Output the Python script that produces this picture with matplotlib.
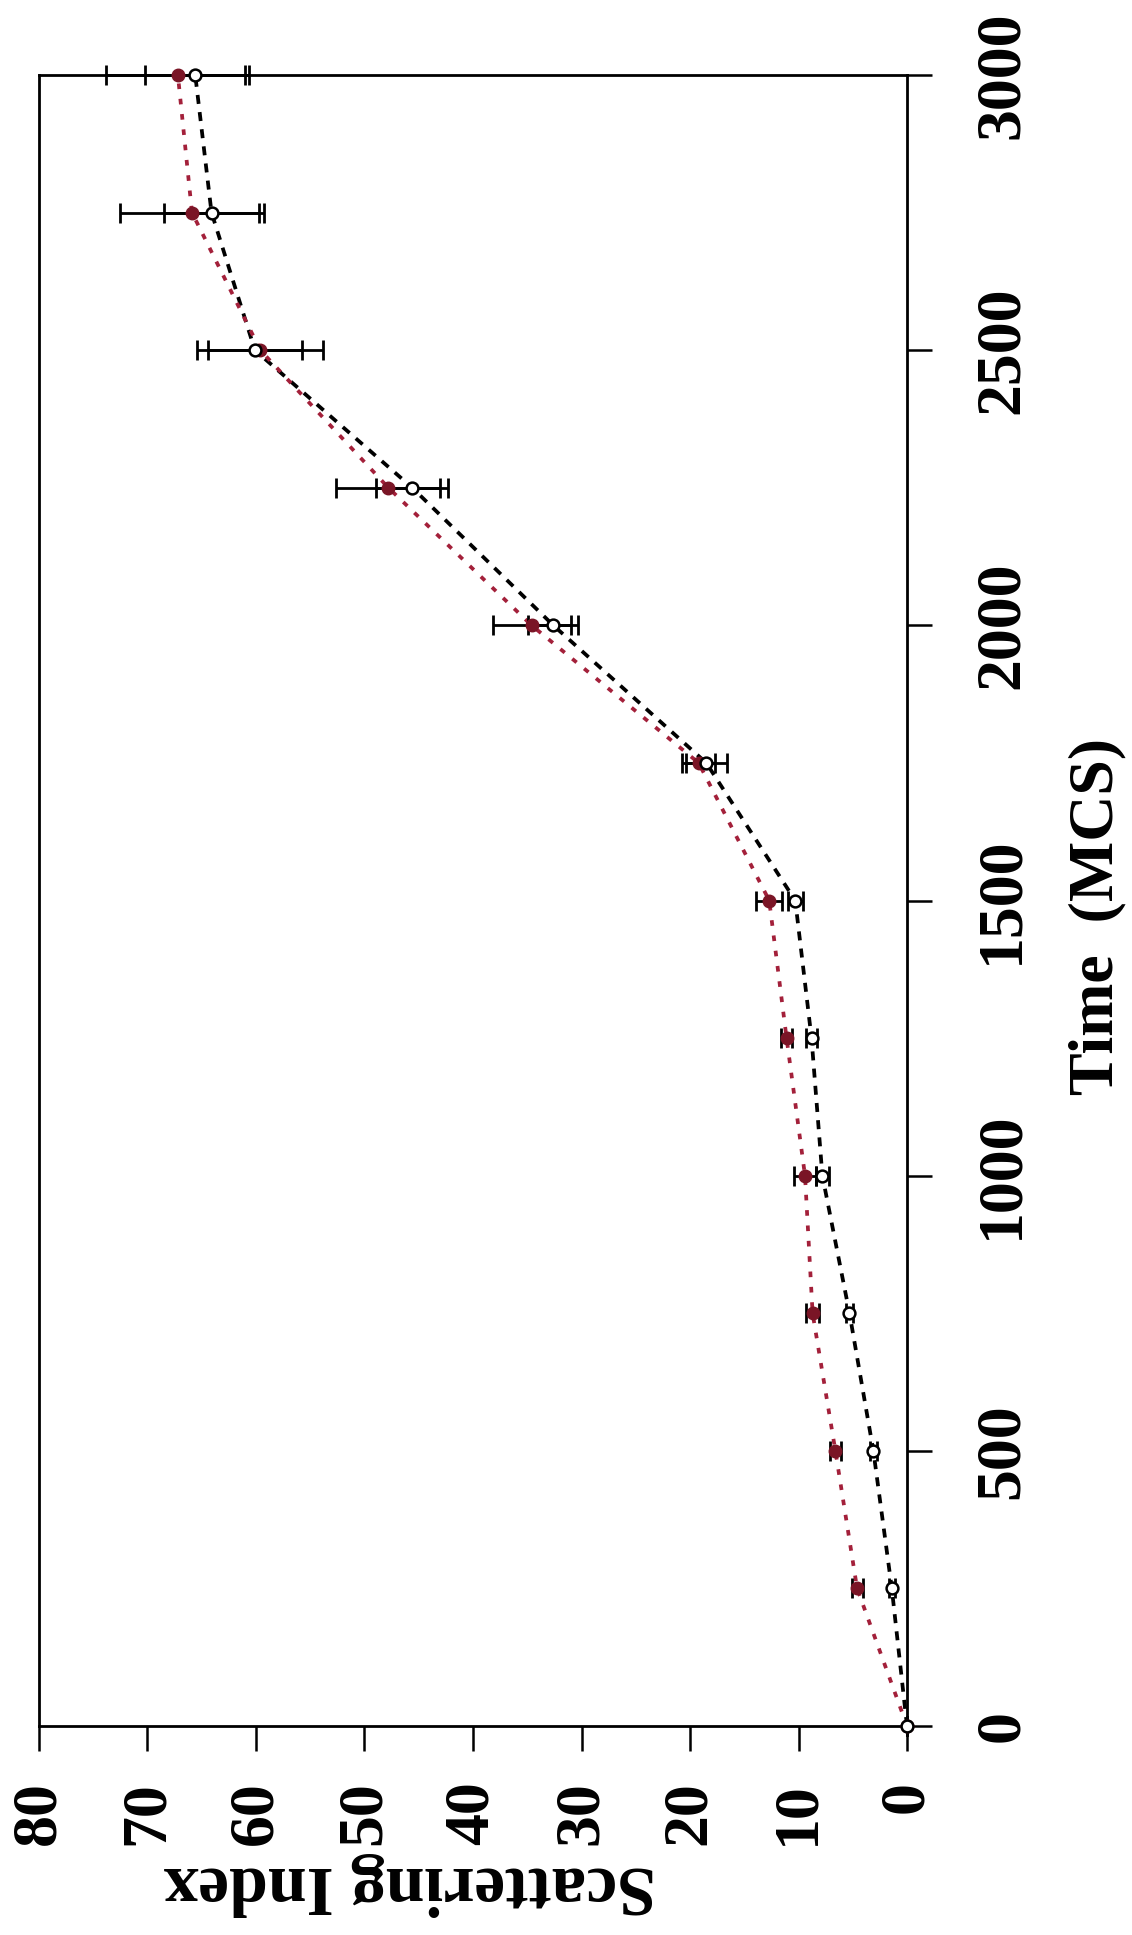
import matplotlib
matplotlib.use("Agg")
import matplotlib.pyplot as plt

# ---- data ----
time_mcs = [0, 250, 500, 750, 1000, 1250, 1500, 1750, 2000, 2250, 2500, 2750, 3000]
red_si = [0, 4.6, 6.6, 8.7, 9.4, 11.1, 12.7, 19.2, 34.6, 47.8, 59.6, 65.9, 67.2]
red_err = [0, 0.5, 0.5, 0.6, 1.0, 0.5, 1.2, 1.5, 3.6, 4.8, 5.8, 6.6, 6.6]
black_si = [0, 1.4, 3.1, 5.3, 7.8, 8.8, 10.3, 18.5, 32.6, 45.6, 60.1, 64.1, 65.6]
black_err = [0, 0.3, 0.3, 0.3, 0.6, 0.5, 0.7, 1.9, 2.3, 3.3, 4.3, 4.4, 4.6]
si_ticks = [0, 10, 20, 30, 40, 50, 60, 70, 80]
time_ticks = [0, 500, 1000, 1500, 2000, 2500, 3000]
xlabel_text = "Scattering Index"
ylabel_text = "Time  (MCS)"

W, H = 1132, 1935
fig = plt.figure(figsize=(W / 100, H / 100), dpi=100)
L, R, T, B = 39, 907, 75, 1726
ax = fig.add_axes([L / W, 1 - B / H, (R - L) / W, (B - T) / H])

font = dict(family=["Liberation Serif", "DejaVu Serif"], weight="bold")

red_line = "#a3203a"
red_mark = "#7a1526"

# error bars (horizontal, along the Scattering Index axis)
for si, err in ((red_si, red_err), (black_si, black_err)):
    eb = ax.errorbar(si, time_mcs, xerr=err, fmt="none", ecolor="black",
                     elinewidth=2.0, capsize=7, capthick=2.0, zorder=3)
    for art in eb.lines[1] + eb.lines[2]:
        art.set_clip_on(False)
    for art in eb.lines[2]:
        art.set_clip_on(False)

# dashed connecting lines
ax.plot(black_si, time_mcs, color="black", lw=2.7, linestyle=(0, (2.4, 2.2)), zorder=2)
ax.plot(red_si, time_mcs, color=red_line, lw=2.7, linestyle=(0, (1.5, 2.6)), zorder=2.5)

# markers
ax.plot(red_si, time_mcs, linestyle="none", marker="o", ms=9,
        mfc=red_mark, mec=red_mark, zorder=4, clip_on=False)
ax.plot(black_si, time_mcs, linestyle="none", marker="o", ms=8.5,
        mfc="white", mec="black", mew=1.8, zorder=5, clip_on=False)

ax.set_xlim(80, 0)
ax.set_ylim(0, 3000)

for s in ax.spines.values():
    s.set_linewidth(2.0)
    s.set_color("black")

ax.set_xticks(si_ticks)
ax.set_xticklabels([str(v) for v in si_ticks], rotation=90, va="top", ha="center", **font)
ax.yaxis.tick_right()
ax.set_yticks(time_ticks)
ax.set_yticklabels([str(v) for v in time_ticks], rotation=90, va="center", ha="left", **font)

ax.tick_params(axis="x", direction="out", length=18, width=1.8, pad=22, labelsize=46)
ax.tick_params(axis="y", direction="out", length=18, width=1.8, pad=30, labelsize=46,
               left=False, right=True)

ax.set_xlabel(xlabel_text, rotation=180, fontsize=50, **font)
ax.xaxis.set_label_coords(0.427, -0.096)
ax.xaxis.label.set_va("center")
ax.xaxis.label.set_ha("center")

ax.yaxis.set_label_position("right")
ax.set_ylabel(ylabel_text, rotation=90, fontsize=46, **font)
ax.yaxis.set_label_coords(1.219, 0.4906)
ax.yaxis.label.set_va("center")
ax.yaxis.label.set_ha("center")

fig.savefig("out.png", dpi=100, facecolor="white")
